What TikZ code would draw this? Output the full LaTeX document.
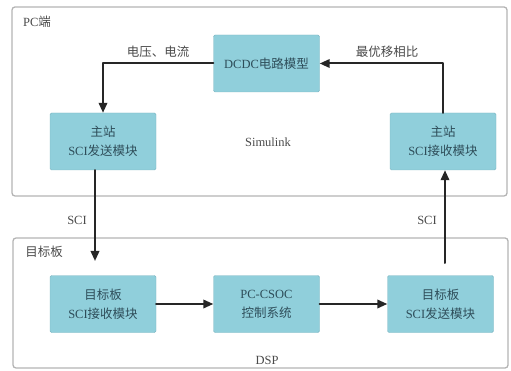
\documentclass[tikz,border=0pt]{standalone}
\usepackage{fontspec}
\setmainfont{Liberation Serif}
\newfontfamily\cjk{Noto Sans CJK SC}
\usetikzlibrary{arrows.meta}
\definecolor{boxfill}{HTML}{90CFDB}
\definecolor{boxline}{HTML}{7DB6C2}
\definecolor{boxtext}{HTML}{2E4D59}
\definecolor{framegray}{HTML}{B4B4B4}
\definecolor{labelgray}{HTML}{4A4A4A}
\tikzset{
  modbox/.style={draw=boxline,fill=boxfill,rounded corners=1.5pt,minimum width=106pt,minimum height=57pt,align=center,text=boxtext,font=\fontsize{12.5}{19}\selectfont,inner sep=1pt},
  frame/.style={draw=framegray,line width=1.3pt,rounded corners=3pt},
  arr/.style={draw=black!85,line width=2pt,-{Triangle[length=10pt,width=8.5pt]}},
  lbl/.style={text=labelgray,font=\fontsize{12.5}{14}\selectfont}
}
\begin{document}
\begin{tikzpicture}[x=1pt,y=-1pt,line cap=round,line join=round]
\useasboundingbox (0,0) rectangle (511,371);
% two frames
\draw[frame] (12,7) rectangle (507,196);
\draw[frame] (13,238) rectangle (508,368);
\node[lbl] (pclbl) at (37,22) {PC{\cjk 端}};
\node[lbl] (tblbl) at (44,252) {\cjk 目标板};
\node[lbl] (simlbl) at (268,142) {Simulink};
\node[lbl] (dsplbl) at (267,360) {DSP};
% PC side modules
\node[modbox] (dcdc) at (266.5,63.5) {DCDC{\cjk 电路模型}};
\node[modbox] (mtx) at (103,141.5) {{\cjk 主站}\\SCI{\cjk 发送模块}};
\node[modbox] (mrx) at (443,141.5) {{\cjk 主站}\\SCI{\cjk 接收模块}};
% target board modules
\node[modbox] (trx) at (103,304) {{\cjk 目标板}\\SCI{\cjk 接收模块}};
\node[modbox] (ctrl) at (266.5,304) {PC-CSOC\\{\cjk 控制系统}};
\node[modbox] (ttx) at (440.5,304) {{\cjk 目标板}\\SCI{\cjk 发送模块}};
\coordinate (sciin) at (95,261);\coordinate (sciout) at (445,263);
% connectors
\draw[arr] (dcdc.west) -| (mtx.north);
\draw[arr] (mrx.north) |- (dcdc.east);
\draw[arr] (mtx.south -| sciin) -- (sciin);
\draw[arr] (sciout) -- (sciout |- mrx.south);
\draw[arr] (trx.east) -- (ctrl.west);\draw[arr] (ctrl.east) -- (ttx.west);
\node[lbl] (uilbl) at (158,52) {\cjk 电压、电流};
\node[lbl] (phlbl) at (387,52) {\cjk 最优移相比};
\node[lbl] (scil) at (77,220) {SCI};\node[lbl] (scir) at (427,220) {SCI};
\end{tikzpicture}
\end{document}
